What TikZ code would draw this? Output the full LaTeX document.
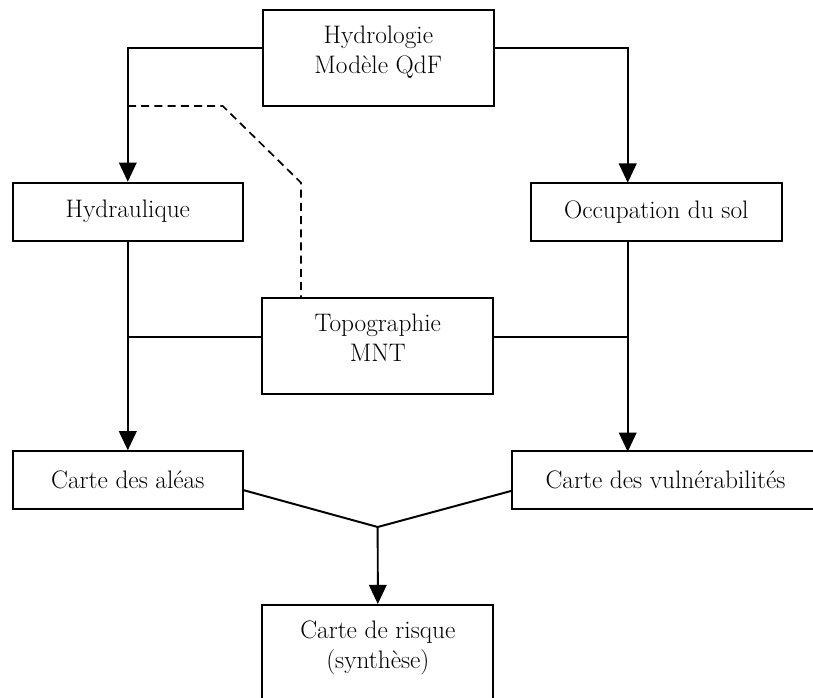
\documentclass[tikz,border=0pt]{standalone}
\usepackage{fontspec}
\usepackage{tikz}
\usetikzlibrary{arrows.meta}

\tikzset{
    bloc/.style={draw, line width=1.4pt, inner sep=0pt, minimum height=1.45cm},
    bloc2/.style={bloc, minimum width=5.775cm, minimum height=2.4cm},
    texte/.style={align=center, font=\fontsize{18}{21.3}\selectfont},
    lien/.style={line width=1.4pt},
    fleche/.style={lien, -{Triangle[length=0.48cm, width=0.44cm]}},
    pointille/.style={line width=1.2pt, dash pattern=on 0.2cm off 0.13cm},
}

\begin{document}
\begin{tikzpicture}[x=0.025cm, y=-0.025cm, font=\fontsize{18}{21.3}\selectfont]
    \useasboundingbox (0,0) rectangle (813,697);
    \clip (0,0) rectangle (813,697);

    % Boxes
    \node[bloc2, label={[texte, yshift=0.14cm]center:Hydrologie\\Modèle QdF}] (hydro) at (378.3,58) {};
    \node[bloc, minimum width=5.76cm] (hydrau) at (127.8,211.7) {Hydraulique};
    \node[bloc, minimum width=6.27cm] (occup) at (656.3,211.7) {Occupation du sol};
    \node[bloc2, label={[texte, yshift=0.2cm]center:Topographie\\MNT}] (topo) at (377.8,345.7) {};
    \node[bloc, minimum width=5.76cm] (alea) at (127.8,480.3) {Carte des aléas};
    \node[bloc, minimum width=7.67cm] (vuln) at (665.5,480.3) {Carte des vulnérabilités};
    \node[bloc2, label={[texte, yshift=0.12cm]center:Carte de risque\\(synthèse)}] (risque) at (377.8,653) {};

    % Points on the box sides
    \coordinate (hydroG) at (262.7,48);
    \coordinate (hydroD) at (494,48);
    \coordinate (occHaut) at (627.7,182.7);
    \coordinate (occBas) at (627.7,240.7);
    \coordinate (vulnHaut) at (627.7,451.7);
    \coordinate (topoG) at (262.7,336.7);
    \coordinate (topoD) at (493,336.7);
    \coordinate (aleaD) at (243,490);
    \coordinate (vulnG) at (512,490.7);
    \coordinate (jonction) at (377.7,527);

    % Hydrologie to the two branches
    \draw[fleche] (hydroG) -| (hydrau.north);
    \draw[fleche] (hydroD) -| (occHaut);

    % Dashed link to the topography
    \coordinate (tiretA) at (128,106);
    \coordinate (tiretB) at (222.7,106);
    \coordinate (tiretC) at (301,182.7);
    \coordinate (tiretD) at (301,298);
    \draw[pointille] (tiretA) -- (tiretB) -- (tiretC) -- (tiretD);

    % Down to the maps
    \draw[fleche] (hydrau.south) -- (alea.north);
    \draw[fleche] (occBas) -- (vulnHaut);
    \draw[lien] (topoG) -- (topoG -| hydrau.south);
    \draw[lien] (topoD) -- (topoD -| occBas);

    % Synthesis
    \draw[lien] (aleaD) -- (jonction) -- (vulnG);
    \draw[fleche] (jonction) -- (risque.north);
\end{tikzpicture}
\end{document}
